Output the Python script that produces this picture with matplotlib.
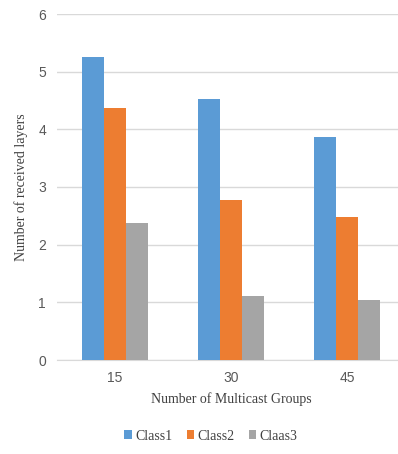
import numpy as np
import matplotlib.pyplot as plt

groups = ['15', '30', '45']
class1 = [5.25, 4.52, 3.86]
class2 = [4.37, 2.78, 2.48]
class3 = [2.38, 1.11, 1.04]
series_names = ['Class1', 'Class2', 'Claas3']
colors = ['#5B9BD5', '#ED7D31', '#A5A5A5']

fig = plt.figure(figsize=(3.98, 4.54), dpi=100)
ax = fig.add_axes([57 / 398, 94 / 454, 348 / 398, 346 / 454])

x = np.arange(len(groups))
w = 0.19
for i, (vals, name, c) in enumerate(zip([class1, class2, class3], series_names, colors)):
    ax.bar(x + (i - 1) * w, vals, w, color=c, label=name, zorder=3)

ax.set_xlim(-0.5, 2.5)
ax.set_ylim(0, 6)
ax.set_yticks(range(7))
ax.set_xticks(x)
ax.set_xticklabels(groups)
ax.grid(axis='y', color='#D9D9D9', linewidth=1, zorder=0)
for s in ['top', 'right', 'left']:
    ax.spines[s].set_visible(False)
ax.spines['bottom'].set_color('#D9D9D9')
ax.tick_params(axis='both', length=0, labelsize=10, labelcolor='#595959', pad=8)
for lab in ax.get_xticklabels() + ax.get_yticklabels():
    lab.set_family('Liberation Sans')

ax.set_xlabel('Number of Multicast Groups', family='Liberation Serif', fontsize=10,
              color='#404040', labelpad=5)
ax.set_ylabel('Number of received layers', family='Liberation Serif', fontsize=10,
              color='#404040', labelpad=7)

leg = fig.legend(loc='center', bbox_to_anchor=(211 / 398, 1 - 436 / 454), ncol=3,
                 frameon=False, handlelength=0.55, handleheight=0.55, handletextpad=0.25,
                 columnspacing=1.0, prop={'family': 'Liberation Serif', 'size': 10})
for t in leg.get_texts():
    t.set_color('#404040')

fig.savefig('out.png', dpi=100)
